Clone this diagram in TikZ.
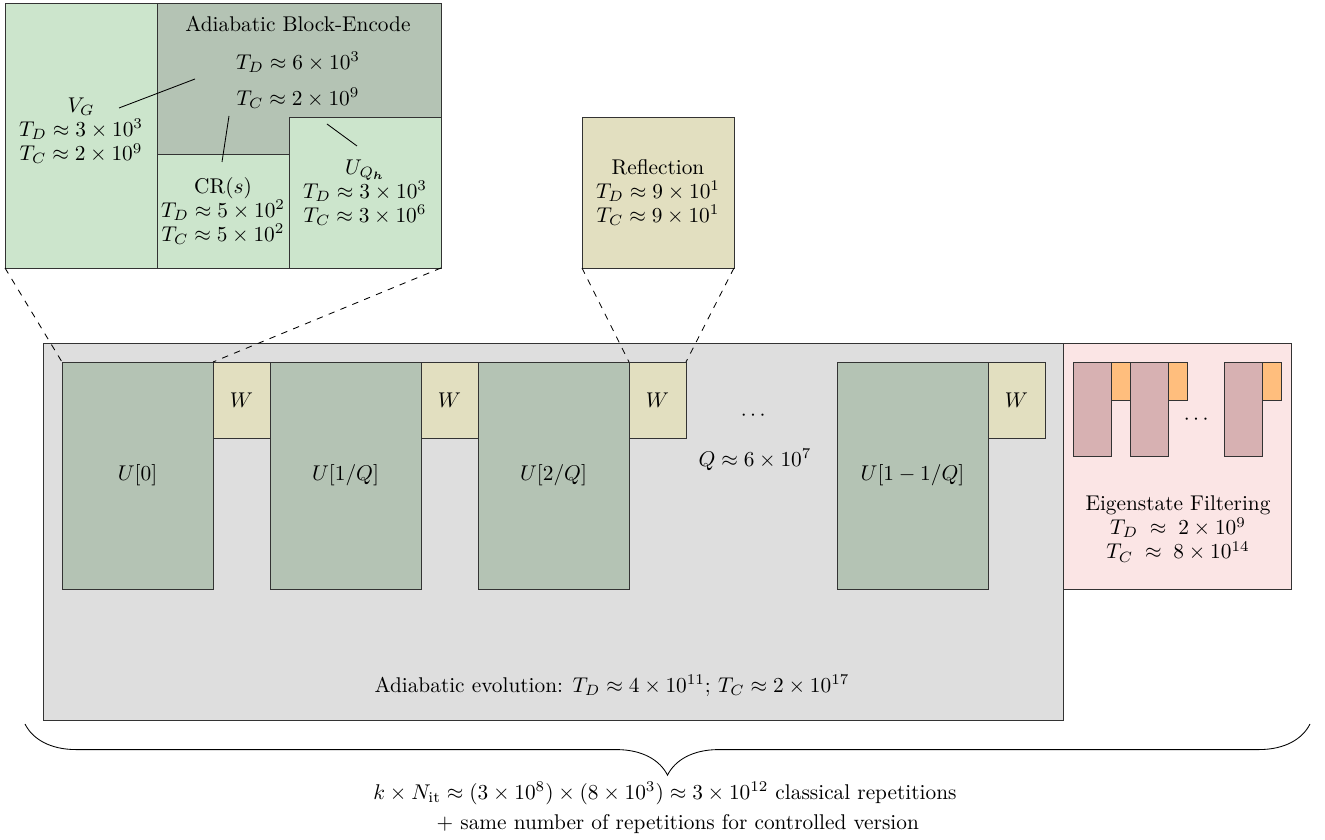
\documentclass[tikz,border=0pt]{standalone}
\usepackage{amsmath}
\usepackage{tikz}
\usetikzlibrary{decorations.pathreplacing}
\definecolor{mint}{HTML}{CCE5CC}
\definecolor{sage}{HTML}{B4C3B4}
\definecolor{khaki}{HTML}{E2DFC0}
\definecolor{fog}{HTML}{DEDEDE}
\definecolor{blush}{HTML}{FBE5E5}
\definecolor{mauve}{HTML}{D7B1B2}
\definecolor{apricot}{HTML}{FFBE7D}
\newlength\pxu
\setlength\pxu{0.469pt}

\begin{document}
\begin{tikzpicture}[x=\pxu,y=-\pxu,
  every node/.style={font=\fontsize{10}{11.3}\selectfont},
  box/.style={rectangle,draw=black!80,line width=0.4pt,inner sep=0pt,outer sep=0pt,align=center},
  ublock/.style={box,fill=sage,minimum width=151*\pxu,minimum height=227*\pxu},
  wblock/.style={box,fill=khaki,minimum width=57*\pxu,minimum height=76*\pxu},
  fblock/.style={box,fill=mauve,minimum width=38*\pxu,minimum height=94*\pxu},
  oblock/.style={box,fill=apricot,minimum width=19*\pxu,minimum height=38*\pxu},
  zoomline/.style={dashed,line width=0.4pt},
  leader/.style={line width=0.4pt}]
\useasboundingbox (0,0) rectangle (1325,840);

% adiabatic evolution
\node[box,fill=fog,minimum width=1020*\pxu,minimum height=377*\pxu] (evol) at (553,531.5) {};
\node[ublock] (u0) at (137.5,475.5) {$U[0]$};
\node[wblock] (w0) at (241.5,400) {$W$};
\node[ublock] (u1) at (345.5,475.5) {$U[1/Q]$};
\node[wblock] (w1) at (449.5,400) {$W$};
\node[ublock] (u2) at (553.5,475.5) {$U[2/Q]$};
\node[wblock] (w2) at (657.5,400) {$W$};
\node[ublock] (u3) at (912.5,475.5) {$U[1-1/Q]$};
\node[wblock] (w3) at (1016.5,400) {$W$};
\node (udots) at (755,416) {$\cdots$};
\node (qval) at (755,460) {$Q \approx 6 \times 10^7$};
\node (evtext) at (612,686) {Adiabatic evolution: $T_D \approx 4 \times 10^{11}$; $T_C \approx 2 \times 10^{17}$};

% eigenstate filtering
\node[box,fill=blush,minimum width=228*\pxu,minimum height=246*\pxu] (filt) at (1177,466) {};
\foreach \i/\x in {1/1092,2/1149,3/1243} {
  \node[fblock] (f\i) at (\x,409) {};
  \node[oblock] (o\i) at (\x+28.5,381) {};
}
\node (fdots) at (1198,420) {$\cdots$};
\node[align=center] (ftext) at (1178,529) {Eigenstate Filtering\\$T_D \;\approx\; 2 \times 10^9$\\$T_C \;\approx\; 8 \times 10^{14}$};

% block-encode inset
\node[box,fill=sage,minimum width=284*\pxu,minimum height=265*\pxu] (abe) at (299,135.5) {};
\node[box,fill=mint,minimum width=152*\pxu,minimum height=265*\pxu] (vg) at (81,135.5) {};
\node[box,fill=mint,minimum width=132*\pxu,minimum height=114*\pxu] (cr) at (223,211) {CR$(s)$\\$T_D \approx 5 \times 10^2$\\$T_C \approx 5 \times 10^2$};
\node[box,fill=mint,minimum width=152*\pxu,minimum height=151*\pxu] (uq) at (365,192.5) {$U_{Q_{\boldsymbol{h}}}$\\$T_D \approx 3 \times 10^3$\\$T_C \approx 3 \times 10^6$};
\node[align=center] (vgtext) at (81,131) {$V_G$\\$T_D \approx 3 \times 10^3$\\$T_C \approx 2 \times 10^9$};
\node (abetitle) at (298,24) {Adiabatic Block-Encode};
\node (abetd) at (298,62) {$T_D \approx 6 \times 10^3$};
\node (abetc) at (298,98) {$T_C \approx 2 \times 10^9$};
\coordinate (vgl) at (119,108);
\coordinate (vgr) at (195,79);
\coordinate (crl) at (222,162);
\coordinate (crr) at (229,116);
\coordinate (uql) at (327,124);
\coordinate (uqr) at (357,146);
\draw[leader] (vgl) -- (vgr);
\draw[leader] (crl) -- (crr);
\draw[leader] (uql) -- (uqr);

% reflection inset
\node[box,fill=khaki,minimum width=152*\pxu,minimum height=151*\pxu] (refl) at (658,192.5) {Reflection\\$T_D \approx 9 \times 10^1$\\$T_C \approx 9 \times 10^1$};

% zoom lines
\draw[zoomline] (vg.south west) -- (u0.north west);
\draw[zoomline] (uq.south east) -- (u0.north east);
\draw[zoomline] (refl.south west) -- (w2.north west);
\draw[zoomline] (refl.south east) -- (w2.north east);

% repetitions
\coordinate (brl) at (25,724);
\coordinate (brr) at (1310,724);
\draw[line width=0.4pt,decorate,decoration={brace,mirror,amplitude=24pt}] (brl) -- (brr);
\node[align=center] (reps) at (665,808) {$k \times N_{\text{it}} \approx (3 \times 10^8) \times (8 \times 10^3) \approx 3 \times 10^{12}$ classical repetitions\\[3pt]
  \hspace*{12pt}+ same number of repetitions for controlled version};
\end{tikzpicture}
\end{document}
